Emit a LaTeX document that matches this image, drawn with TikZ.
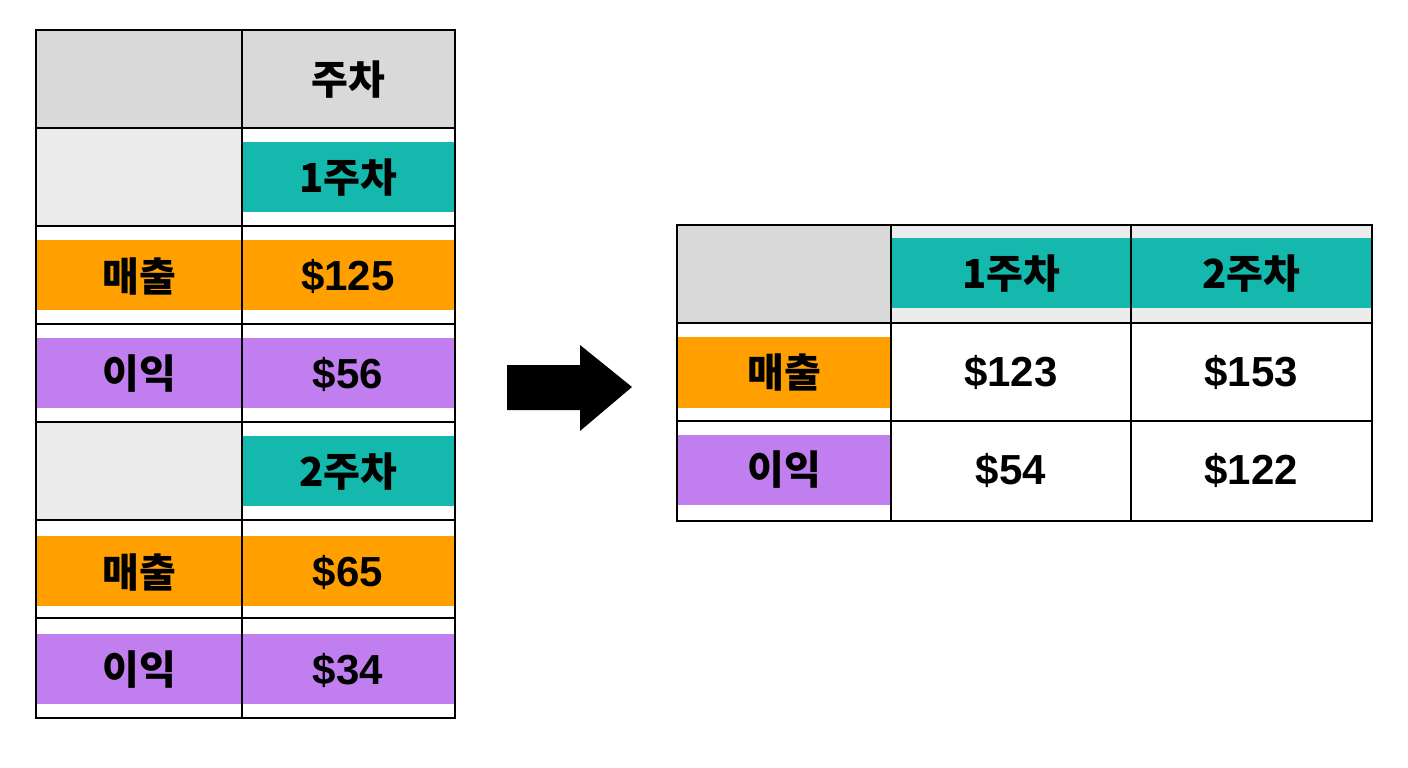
\documentclass[tikz,border=0pt]{standalone}
\usepackage{fontspec}
\setmainfont{Liberation Sans}
\newfontfamily\kr{Noto Sans CJK KR}
\definecolor{teal1}{HTML}{14B8AC}
\definecolor{orng}{HTML}{FF9F00}
\definecolor{purp}{HTML}{C07EEE}
\definecolor{gry}{HTML}{D9D9D9}
\definecolor{lgry}{HTML}{ECECEC}
\begin{document}
\begin{tikzpicture}[x=1pt,y=-1pt,
  grid/.style={line width=2.5pt,black},
  kt/.style={font=\kr\bfseries\fontsize{40}{40}\selectfont,inner sep=0pt},
  nt/.style={font=\bfseries\fontsize{42}{42}\selectfont,inner sep=0pt}]
\useasboundingbox (0,0) rectangle (1408,768);
% ---- left table fills
\fill[gry] (36,30) rectangle (455,128);
\fill[lgry] (36,128) rectangle (242,226);
\fill[teal1] (242,142) rectangle (455,212);
\fill[orng] (36,240) rectangle (455,310);
\fill[purp] (36,338) rectangle (455,408);
\fill[lgry] (36,422) rectangle (242,520);
\fill[teal1] (242,436) rectangle (455,506);
\fill[orng] (36,536) rectangle (455,606);
\fill[purp] (36,634) rectangle (455,704);
\draw[grid] (36,30) rectangle (455,718);
\draw[grid] (242,30) -- (242,718);
\foreach \y in {128,226,324,422,520,618} \draw[grid] (36,\y) -- (455,\y);
\node[kt] (h0) at (348,80) {주차};
\node[kt] (w1) at (348,178) {1주차};
\node[kt] (s1l) at (139,276) {매출};
\node[nt] (s1) at (348,276) {\$125};
\node[kt] (p1l) at (139,374) {이익};
\node[nt] (p1) at (348,374) {\$56};
\node[kt] (w2) at (348,472) {2주차};
\node[kt] (s2l) at (139,572) {매출};
\node[nt] (s2) at (348,572) {\$65};
\node[kt] (p2l) at (139,670) {이익};
\node[nt] (p2) at (348,670) {\$34};
% ---- arrow
\fill[black] (507,365) -- (580,365) -- (580,345) -- (632,387) -- (580,431) -- (580,410) -- (507,410) -- cycle;
% ---- right table
\fill[gry] (677,225) rectangle (891,323);
\fill[lgry] (891,225) rectangle (1372,323);
\fill[teal1] (891,238) rectangle (1372,308);
\fill[orng] (677,337) rectangle (891,408);
\fill[purp] (677,435) rectangle (891,505);
\draw[grid] (677,225) rectangle (1372,521);
\draw[grid] (891,225) -- (891,521);
\draw[grid] (1131,225) -- (1131,521);
\draw[grid] (677,323) -- (1372,323);
\draw[grid] (677,421) -- (1372,421);
\node[kt] (r1) at (1011,274) {1주차};
\node[kt] (r2) at (1251,274) {2주차};
\node[kt] (rs) at (784,372) {매출};
\node[kt] (rp) at (784,470) {이익};
\node[nt] (a) at (1011,372) {\$123};
\node[nt] (b) at (1251,372) {\$153};
\node[nt] (c) at (1011,470) {\$54};
\node[nt] (d) at (1251,470) {\$122};
\end{tikzpicture}
\end{document}
